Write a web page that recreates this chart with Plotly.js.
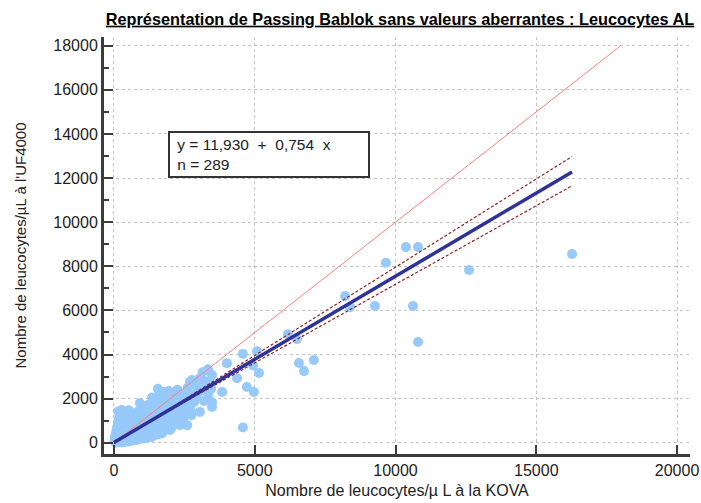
<!DOCTYPE html>
<html>
<head>
<meta charset="utf-8">
<script src="https://cdn.plot.ly/plotly-3.0.1.min.js"></script>
<style>html,body{margin:0;padding:0;background:#fff;}#chart{width:701px;height:503px;}</style>
</head>
<body>
<div id="chart"></div>
<script>
// Leucocytes counts: KOVA (x) vs UF4000 (y)
const xKova = [
  16270,10370,10800,12610,10620,10800,9660,8210,8380,9270,
  6180,6500,6570,6750,7100,5080,4580,4010,4940,5150,
  3340,3480,4370,4720,4970,3840,3340,3480,4580,3160,
  2770,2950,2700,2770,3050,2700,3050,2700,3480,3340,
  2520,2420,2060,1560,1630,2170,920,1250,280,2240,
  1630,1990,2340,210,1100,1700,
  47,83,100,118,152,170,193,200,224,240,
  262,280,297,310,333,350,362,380,404,410,
  420,442,460,478,500,513,530,552,560,583,
  600,618,640,652,670,688,700,722,738,760,
  780,803,820,840,862,880,900,918,940,962,
  980,1000,1022,1040,1058,1080,1103,1120,1140,1162,
  1180,1198,1220,1243,1260,1280,1302,1320,1338,1360,
  1382,1400,1418,1440,1462,1480,1500,1522,1540,1560,
  1583,1600,1620,1648,1680,1702,1720,1750,1778,1800,
  1830,1862,1890,1918,1950,1982,2010,2050,2088,2130,
  2170,2212,2260,2300,2350,2400,2460,2520,2580,2650,
  30,60,90,110,140,160,180,230,150,260,
  70,130,180,240,290,340,390,450,520,570,
  630,680,730,790,850,910,970,1030,1090,1150,
  1210,1270,1330,1390,1450,1510,1570,1640,1710,1790,
  320,370,430,490,540,590,660,710,770,830,
  890,950,1010,1070,1130,1190,1250,1310,1370,1430,
  22,48,71,108,133,168,192,229,251,288,
  312,349,371,408,431,468,492,529,553,588,
  600,650,700,750,810,870,930,990,1050,1110,
  2450,2550,2620,2700,2850,2900,3000,3100,3200,3250,
  2200,2100,1900,1850,2000,2300,2480,2750,2600,2380,
  1650,1750,1550,1450,1350,2050,1950,2250,2350,2150,
  3450,3400,3150
];
const yUF4000 = [
  8560,8870,8870,7830,6200,4570,8160,6650,6150,6200,
  4920,4700,3620,3250,3750,4150,4030,3610,3500,3160,
  3330,3070,2930,2530,2300,2300,2390,1620,690,2850,
  2850,2080,1490,2170,2930,2760,1400,1580,1850,2170,
  1620,900,720,2450,2080,2250,1800,1710,1490,1170,
  720,580,810,1260,670,490,
  30,120,60,200,90,310,150,40,260,180,
  420,100,330,220,510,160,280,640,350,90,
  470,250,560,380,720,200,430,300,880,520,
  140,610,390,950,480,260,700,560,1050,330,
  620,810,450,1180,700,240,540,930,620,1300,
  780,410,860,1020,560,1350,900,330,740,1120,
  620,1450,980,470,800,1230,660,1050,1580,880,
  540,1200,960,1380,740,1100,1650,880,1300,600,
  1050,1450,1200,840,1550,1330,1000,1700,1150,1400,
  900,1600,1250,1800,1450,1100,1700,1350,1950,1550,
  1250,1850,1650,2000,1450,1800,2100,1950,2300,2050,
  250,400,550,700,850,1000,1150,1350,1420,1100,
  10,20,70,30,50,80,40,110,60,170,
  90,150,210,130,300,180,250,190,280,210,
  300,380,260,410,350,480,380,520,430,600,
  660,780,900,1000,1120,1240,1150,1300,1250,1400,
  1330,1500,1420,1600,1520,1700,1620,1780,1500,1850,
  85,170,310,370,470,530,630,690,790,850,
  950,1010,1110,1170,1270,1330,1410,1470,1290,1030,
  900,1080,1000,880,1000,1100,1200,1350,1250,1150,
  1300,1700,2500,2200,1850,2600,2300,2700,1900,2550,
  2050,900,650,2000,2150,1050,1150,1250,800,1500,
  1900,2300,2100,1950,2050,1850,2350,2400,2200,1750,
  2450,2800,3200
];

// Passing-Bablok fit and its confidence bounds [intercept, slope]
const fitCoef = [11.930, 0.754];
const ciUpperCoef = [-38.5, 0.800];
const ciLowerCoef = [65.2, 0.712];
// Identity line y = x
const identityX = [0, 18000];
const identityY = [0, 18000];

const xTickVals = [0, 5000, 10000, 15000, 20000];
const xTickText = ['0', '5000', '10000', '15000', '20000'];
const yTickVals = [0, 2000, 4000, 6000, 8000, 10000, 12000, 14000, 16000, 18000];
const yTickText = ['0', '2000', '4000', '6000', '8000', '10000', '12000', '14000', '16000', '18000'];

const fitX = [0, Math.max(...xKova)];
const lineY = c => fitX.map(x => c[0] + c[1] * x);

const FONT = '"Liberation Sans", Arial, sans-serif';
const AX = '#3c3c3c';

const traces = [
  {x: xKova, y: yUF4000, type: 'scatter', mode: 'markers',
   marker: {size: 10, color: '#97c9fa', line: {width: 0}}, hoverinfo: 'x+y'},
  {x: identityX, y: identityY, type: 'scatter', mode: 'lines',
   line: {color: '#ff7f7f', width: 1}},
  {x: fitX, y: lineY(ciUpperCoef), type: 'scatter', mode: 'lines',
   line: {color: '#8e2323', width: 1.2, dash: '3px,2px'}},
  {x: fitX, y: lineY(ciLowerCoef), type: 'scatter', mode: 'lines',
   line: {color: '#8e2323', width: 1.2, dash: '3px,2px'}},
  {x: fitX, y: lineY(fitCoef), type: 'scatter', mode: 'lines',
   line: {color: '#2f3399', width: 3.5}}
];

const nb = '\u00a0';
const boxText = nb + 'y = 11,930' + nb + nb + '+' + nb + nb + '0,754' + nb + nb + 'x<br>' + nb + 'n = 289';

const layout = {
  width: 701, height: 503,
  margin: {l: 104, r: 11, t: 37, b: 49, pad: 0},
  paper_bgcolor: '#ffffff', plot_bgcolor: '#ffffff',
  showlegend: false,
  font: {family: FONT, size: 14, color: '#222'},
  title: {
    text: '<b><u>Représentation de Passing Bablok sans valeurs aberrantes : Leucocytes AL</u></b>',
    font: {family: FONT, size: 16.3, color: '#000'},
    xref: 'container', x: 400 / 701, xanchor: 'center',
    yref: 'container', y: 1 - 19 / 503, yanchor: 'middle'
  },
  xaxis: {
    range: [-355, 20460],
    tickmode: 'array', tickvals: xTickVals, ticktext: xTickText,
    showgrid: true, gridcolor: '#c4c4c4', griddash: 'dot', gridwidth: 1,
    zeroline: false, showline: true, linecolor: AX, linewidth: 3,
    ticks: 'inside', ticklen: 9, tickwidth: 2, tickcolor: AX,
    tickfont: {family: FONT, size: 16, color: '#222'},
    title: {text: 'Nombre de leucocytes/µ L à la KOVA', font: {family: FONT, size: 16, color: '#222'}, standoff: 7}
  },
  yaxis: {
    range: [-508, 18395],
    tickmode: 'array', tickvals: yTickVals, ticktext: yTickText,
    showgrid: true, gridcolor: '#c4c4c4', griddash: 'dot', gridwidth: 1,
    zeroline: false, showline: true, linecolor: AX, linewidth: 3,
    ticks: 'inside', ticklen: 9, tickwidth: 2, tickcolor: AX,
    minor: {dtick: 1000, tick0: 0, ticks: 'inside', ticklen: 5, tickwidth: 2, tickcolor: AX, showgrid: false},
    tickfont: {family: FONT, size: 16, color: '#222'},
    title: {text: "Nombre de leucocytes/µL à l'UF4000", font: {family: FONT, size: 15, color: '#222'}, standoff: 24}
  },
  annotations: [{
    xref: 'paper', yref: 'paper',
    x: (168 - 104) / 586, y: (454 - 131) / 417,
    xanchor: 'left', yanchor: 'top',
    text: boxText, showarrow: false, align: 'left',
    font: {family: FONT, size: 15.5, color: '#222'},
    bordercolor: '#333', borderwidth: 2, borderpad: 3, bgcolor: '#fff',
    width: 192
  }]
};

Plotly.newPlot('chart', traces, layout, {staticPlot: true, displayModeBar: false});
</script>
</body>
</html>
